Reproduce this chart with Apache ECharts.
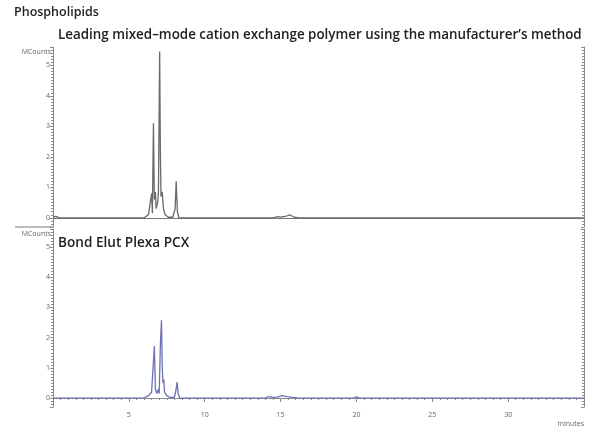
<!DOCTYPE html>
<html>
<head>
<meta charset="utf-8">
<script src="https://cdn.jsdelivr.net/npm/echarts@6/dist/echarts.min.js"></script>
<style>
  html, body { margin: 0; padding: 0; background: #fff; }
  #main { width: 591px; height: 427px; }
</style>
</head>
<body>
<div id="main"></div>
<script>
// chromatogram traces: time (minutes) and signal (MCounts)
var topTime = [0, 0.2, 0.4, 6.0, 6.15, 6.3, 6.4, 6.5, 6.55, 6.62, 6.68, 6.75, 6.8, 6.9, 6.95, 7.03, 7.08, 7.12, 7.2, 7.28, 7.4, 7.6, 7.9, 8.05, 8.12, 8.2, 8.3, 14.5, 14.8, 15.0, 15.4, 15.6, 15.9, 16.2, 35];
var topValue = [0.02, 0.05, 0.0, 0.0, 0.05, 0.12, 0.08, 0.8, 0.15, 3.1, 0.6, 0.85, 0.3, 0.5, 0.85, 5.45, 2.0, 0.7, 0.85, 0.3, 0.1, 0.02, 0.02, 0.3, 1.2, 0.2, 0.0, 0.0, 0.04, 0.02, 0.06, 0.1, 0.02, 0.0, 0.0];

var bottomTime = [0, 6.0, 6.1, 6.3, 6.4, 6.5, 6.58, 6.68, 6.75, 6.85, 6.95, 7.0, 7.08, 7.15, 7.2, 7.25, 7.3, 7.35, 7.5, 7.7, 8.0, 8.1, 8.18, 8.25, 8.35, 14.0, 14.2, 14.5, 14.8, 15.1, 15.4, 15.8, 16.2, 19.8, 20.0, 20.2, 35];
var bottomValue = [0.0, 0.0, 0.05, 0.08, 0.06, 0.2, 0.22, 1.72, 0.3, 0.15, 0.3, 0.15, 1.8, 2.58, 1.0, 0.5, 0.62, 0.2, 0.08, 0.02, 0.02, 0.25, 0.53, 0.15, 0.0, 0.0, 0.05, 0.02, 0.03, 0.08, 0.05, 0.02, 0.0, 0.0, 0.04, 0.0, 0.0];

var xTicks = [5, 10, 15, 20, 25, 30];
var yTicks = [0, 1, 2, 3, 4, 5];

var mainTitle = 'Phospholipids';
var topLabel = "Leading mixed\u2013mode cation exchange polymer using the manufacturer\u2019s method";
var bottomLabel = 'Bond Elut Plexa PCX';

function pairs(t, v) {
    var out = [];
    for (var i = 0; i < t.length; i++) out.push([t[i], v[i]]);
    return out;
}

var axisGray = '#8a8a8a';
var labelGray = '#666';
var font = '"Open Sans", "DejaVu Sans", sans-serif';

function yLabel(v) {
    var r = Math.round(v);
    return (Math.abs(v - r) < 1e-6 && yTicks.indexOf(r) >= 0) ? String(r) : '';
}

function leftY(gridIndex, min, max) {
    return {
        type: 'value', gridIndex: gridIndex, position: 'left',
        min: min, max: max, splitNumber: 6,
        name: 'MCounts', nameLocation: 'end', nameGap: -8,
        nameTextStyle: { fontSize: 7, color: labelGray, align: 'right', padding: [0, 2, 0, 0], fontFamily: font },
        axisLine: { show: true, lineStyle: { color: axisGray, width: 1 } },
        axisTick: { show: true, length: 3, lineStyle: { color: axisGray } },
        minorTick: { show: true, splitNumber: 10, length: 2, lineStyle: { color: axisGray } },
        axisLabel: { formatter: yLabel, fontSize: 7, color: labelGray, margin: 3, showMinLabel: false, showMaxLabel: false, fontFamily: font },
        splitLine: { show: false }
    };
}

function rightY(gridIndex, min, max) {
    return {
        type: 'value', gridIndex: gridIndex, position: 'right',
        min: min, max: max, splitNumber: 6,
        axisLine: { show: true, lineStyle: { color: axisGray, width: 1 } },
        axisTick: { show: true, inside: true, length: 3, lineStyle: { color: axisGray } },
        minorTick: { show: true, splitNumber: 10, length: 2, lineStyle: { color: axisGray } },
        axisLabel: { show: false },
        splitLine: { show: false }
    };
}

var myChart = echarts.init(document.getElementById('main'));
var option = {
    backgroundColor: '#fff',
    animation: false,
    title: [
        { text: mainTitle, left: 14, top: 6, padding: 0, textStyle: { fontSize: 12.5, fontWeight: 600, color: '#222', fontFamily: font } },
        { text: topLabel, left: 58, top: 29, padding: 0, textStyle: { fontSize: 13.4, fontWeight: 600, color: '#222', fontFamily: font } },
        { text: bottomLabel, left: 58, top: 236, padding: 0, textStyle: { fontSize: 13.6, fontWeight: 600, color: '#222', fontFamily: font } }
    ],
    graphic: [
        { type: 'line', shape: { x1: 15, y1: 227, x2: 53, y2: 227 }, style: { stroke: '#777', lineWidth: 1.2 } }
    ],
    grid: [
        { left: 53, right: 7, top: 47, height: 180 },
        { left: 53, right: 7, top: 229, height: 179 }
    ],
    xAxis: [
        {
            type: 'value', gridIndex: 0, min: 0, max: 35, interval: 5,
            axisLine: { show: true, lineStyle: { color: '#777', width: 1.2 } },
            axisTick: { show: false }, axisLabel: { show: false }, splitLine: { show: false }
        },
        {
            type: 'value', gridIndex: 1, min: 0, max: 35, interval: 5,
            name: 'minutes', nameLocation: 'end', nameGap: 0,
            nameTextStyle: { fontSize: 7, color: labelGray, align: 'right', verticalAlign: 'top', padding: [22, 0, 0, 0], fontFamily: font },
            axisLine: { show: true, lineStyle: { color: axisGray, width: 1 } },
            axisTick: { show: true, length: 4, lineStyle: { color: axisGray } },
            minorTick: { show: true, splitNumber: 10, length: 2, lineStyle: { color: axisGray } },
            axisLabel: {
                fontSize: 7, color: labelGray, margin: 4, fontFamily: font,
                formatter: function (v) { return xTicks.indexOf(v) >= 0 ? String(v) : ''; }
            },
            splitLine: { show: false }
        }
    ],
    yAxis: [
        leftY(0, -0.3, 5.6),
        rightY(0, -0.3, 5.6),
        leftY(1, -0.3, 5.6),
        rightY(1, -0.3, 5.6)
    ],
    series: [
        {
            type: 'line', xAxisIndex: 0, yAxisIndex: 0,
            data: pairs(topTime, topValue),
            showSymbol: false,
            lineStyle: { color: '#6a6a6a', width: 1.3 }
        },
        {
            type: 'line', xAxisIndex: 1, yAxisIndex: 2,
            data: pairs(bottomTime, bottomValue),
            showSymbol: false,
            lineStyle: { color: '#6d71b8', width: 1.3 }
        }
    ]
};
myChart.setOption(option);
</script>
</body>
</html>
